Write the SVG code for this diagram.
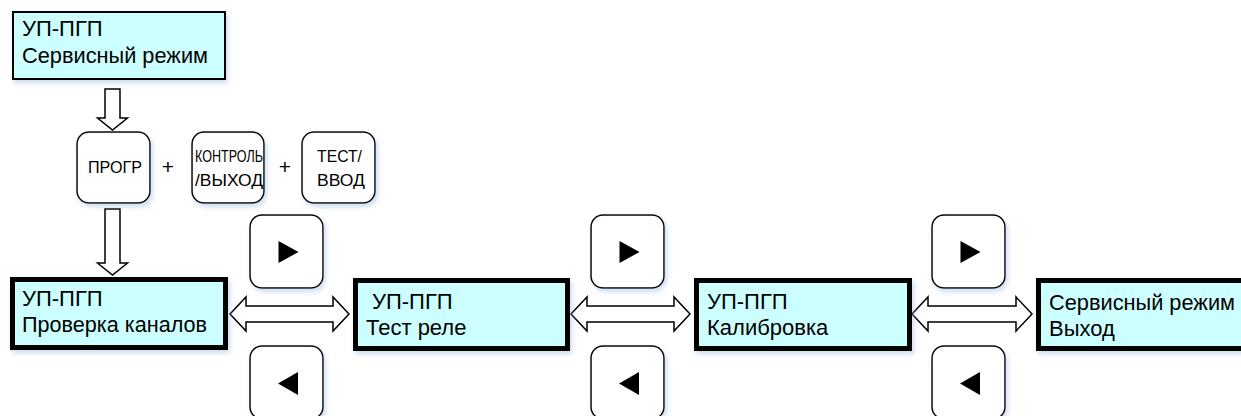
<svg xmlns="http://www.w3.org/2000/svg" width="1241" height="416" viewBox="0 0 1241 416">
<defs>
<filter id="sh" x="-20%" y="-20%" width="140%" height="150%">
<feDropShadow dx="2" dy="3" stdDeviation="2.5" flood-color="#8fb0dc" flood-opacity="0.45"/>
</filter>
<style>
.st{fill:#ccffff;stroke:#000;stroke-width:2;filter:url(#sh)}
.main{fill:#ccffff;stroke:#000;stroke-width:5;filter:url(#sh)}
.btn{fill:#fff;stroke:#000;stroke-width:1.5;filter:url(#sh)}
.arr{fill:#fff;stroke:#000;stroke-width:1.5;stroke-linejoin:miter}
.t{font-family:"Liberation Sans",Arial,sans-serif;font-size:22px;fill:#000}
.bt{font-family:"Liberation Sans",Arial,sans-serif;font-size:17px;fill:#000}
.pl{font-family:"Liberation Sans",Arial,sans-serif;font-size:21px;fill:#000;text-anchor:middle}
</style>
</defs>
<rect width="1241" height="416" fill="#fff"/>

<g id="connectors">
<path class="arr" d="M105,89 L120,89 L120,118 L127.5,118 L112.5,130 L97.5,118 L105,118 Z"/>
<path class="arr" d="M105,209 L120,209 L120,263 L127.5,263 L112.5,275 L97.5,263 L105,263 Z"/>
<path class="arr" d="M230,314 L246,297 L246,306 L333,306 L333,297 L349,314 L333,331 L333,322 L246,322 L246,331 Z"/>
<path class="arr" d="M571,314 L587,297 L587,306 L674,306 L674,297 L690,314 L674,331 L674,322 L587,322 L587,331 Z"/>
<path class="arr" d="M912,314 L928,297 L928,306 L1016,306 L1016,297 L1032,314 L1016,331 L1016,322 L928,322 L928,331 Z"/>
</g>

<g id="node-service">
<rect class="st" x="13" y="12" width="212" height="67"/>
<text class="t" x="22" y="36">УП-ПГП</text>
<text class="t" x="22" y="63" textLength="186" lengthAdjust="spacingAndGlyphs">Сервисный режим</text>
</g>

<g id="btn-progr">
<rect class="btn" x="77" y="132" width="73" height="71" rx="12"/>
<text class="bt" x="88" y="173" textLength="54" lengthAdjust="spacingAndGlyphs">ПРОГР</text>
</g>
<text id="plus1" class="pl" x="168" y="174">+</text>
<g id="btn-kontrol">
<rect class="btn" x="192" y="132" width="72" height="71" rx="12"/>
<text class="bt" transform="translate(195,162) scale(0.73,1)" x="0" y="0" textLength="93" lengthAdjust="spacingAndGlyphs">КОНТРОЛЬ</text>
<text class="bt" x="195" y="186" textLength="68" lengthAdjust="spacingAndGlyphs">/ВЫХОД</text>
</g>
<text id="plus2" class="pl" x="285" y="174">+</text>
<g id="btn-test">
<rect class="btn" x="302" y="132" width="73" height="71" rx="12"/>
<text class="bt" x="317" y="162" textLength="45" lengthAdjust="spacingAndGlyphs">ТЕСТ/</text>
<text class="bt" x="317" y="186" textLength="48" lengthAdjust="spacingAndGlyphs">ВВОД</text>
</g>

<g id="node-channels">
<rect class="main" x="12.5" y="279.5" width="213" height="68"/>
<text class="t" x="22" y="306">УП-ПГП</text>
<text class="t" x="22" y="332" textLength="185" lengthAdjust="spacingAndGlyphs">Проверка каналов</text>
</g>
<g id="node-relay">
<rect class="main" x="355.5" y="280.5" width="212" height="68"/>
<text class="t" x="372" y="309">УП-ПГП</text>
<text class="t" x="366" y="335">Тест реле</text>
</g>
<g id="node-calib">
<rect class="main" x="696.5" y="280.5" width="213" height="68"/>
<text class="t" x="707" y="309">УП-ПГП</text>
<text class="t" x="707" y="335">Калибровка</text>
</g>
<g id="node-exit">
<rect class="main" x="1038.5" y="280.5" width="215" height="68"/>
<text class="t" x="1049" y="310" textLength="186" lengthAdjust="spacingAndGlyphs">Сервисный режим</text>
<text class="t" x="1049" y="336">Выход</text>
</g>

<g id="btn-right-1">
<rect class="btn" x="250" y="215" width="73" height="73" rx="12"/>
<polygon points="278.5,241 298.5,252 278.5,263"/>
</g>
<g id="btn-left-1">
<rect class="btn" x="250" y="346" width="73" height="73" rx="12"/>
<polygon points="298,372 278,383.5 298,395"/>
</g>
<g id="btn-right-2">
<rect class="btn" x="591" y="215" width="73" height="73" rx="12"/>
<polygon points="619.5,241 639.5,252 619.5,263"/>
</g>
<g id="btn-left-2">
<rect class="btn" x="591" y="346" width="73" height="73" rx="12"/>
<polygon points="639,372 619,383.5 639,395"/>
</g>
<g id="btn-right-3">
<rect class="btn" x="932" y="215" width="73" height="73" rx="12"/>
<polygon points="960.5,241 980.5,252 960.5,263"/>
</g>
<g id="btn-left-3">
<rect class="btn" x="932" y="346" width="73" height="73" rx="12"/>
<polygon points="980,372 960,383.5 980,395"/>
</g>
</svg>
